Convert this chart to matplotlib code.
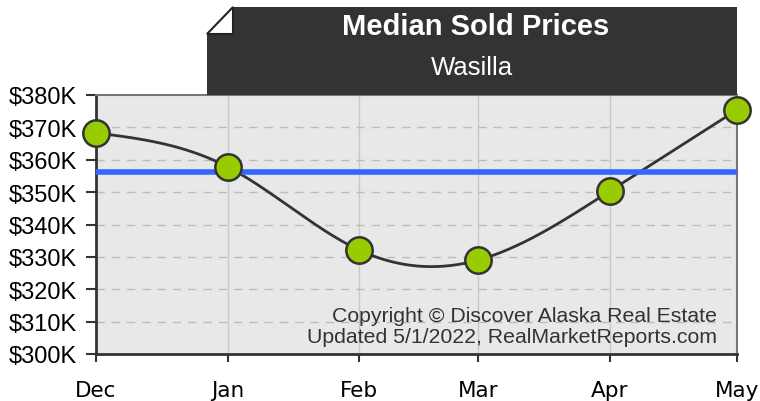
import datetime as dt
import numpy as np
import matplotlib
matplotlib.use("Agg")
import matplotlib.pyplot as plt
import matplotlib.dates as mdates
from matplotlib.patches import Polygon

# data
months = [dt.date(2021, 12, 1), dt.date(2022, 1, 1), dt.date(2022, 2, 1),
          dt.date(2022, 3, 1), dt.date(2022, 4, 1), dt.date(2022, 5, 1)]
month_labels = ["Dec", "Jan", "Feb", "Mar", "Apr", "May"]
prices = [368300, 357800, 332100, 329000, 350300, 375400]
average_price = 356200
y_ticks = list(range(300000, 380001, 10000))

title = "Median Sold Prices"
subtitle = "Wasilla"
note = "Copyright \u00a9 Discover Alaska Real Estate\nUpdated 5/1/2022, RealMarketReports.com"

W, H = 760, 402


def natural_spline(x, y, n=400):
    # natural cubic spline through the points, only used to draw the smooth line
    x = np.asarray(x, float)
    y = np.asarray(y, float)
    k = len(x)
    h = np.diff(x)
    A = np.zeros((k, k))
    b = np.zeros(k)
    A[0, 0] = A[-1, -1] = 1
    for i in range(1, k - 1):
        A[i, i - 1] = h[i - 1]
        A[i, i] = 2 * (h[i - 1] + h[i])
        A[i, i + 1] = h[i]
        b[i] = 6 * ((y[i + 1] - y[i]) / h[i] - (y[i] - y[i - 1]) / h[i - 1])
    M = np.linalg.solve(A, b)
    xs = np.linspace(x[0], x[-1], n)
    idx = np.clip(np.searchsorted(x, xs) - 1, 0, k - 2)
    x0, x1 = x[idx], x[idx + 1]
    hh = x1 - x0
    t0, t1 = x1 - xs, xs - x0
    ys = (M[idx] * t0 ** 3 + M[idx + 1] * t1 ** 3) / (6 * hh) \
        + (y[idx] / hh - M[idx] * hh / 6) * t0 \
        + (y[idx + 1] / hh - M[idx + 1] * hh / 6) * t1
    return xs, ys


def fx(px):
    return px / W


def fy(py):
    return 1 - py / H


fig = plt.figure(figsize=(W / 100, H / 100), dpi=100)
fig.patch.set_facecolor("white")
ax = fig.add_axes([fx(96), fy(355), (737 - 96) / W, (355 - 96) / H])
ax.set_facecolor("#e8e8e8")

xnum = mdates.date2num(months)
ax.set_xlim(xnum[0], xnum[-1])
ax.set_ylim(300000, 380000)

for xv in xnum[1:-1]:
    ax.axvline(xv, color="#c8c8c8", lw=1, zorder=1)
for yv in y_ticks[1:-1]:
    ax.axhline(yv, color="#bdbdbd", lw=1, ls=(0, (6, 5)), zorder=1)

xs, ys = natural_spline(xnum, prices)
ax.plot(xs, ys, color="#333333", lw=2, zorder=3, clip_on=False)
ax.axhline(average_price, color="#3366ff", lw=4, zorder=4)
ax.plot(xnum, prices, ls="none", marker="o", ms=19, mfc="#99cc00",
        mec="#333333", mew=1.8, zorder=5, clip_on=False)

ax.set_yticks(y_ticks)
ax.set_yticklabels(["${}K".format(v // 1000) for v in y_ticks],
                   family="Liberation Sans", fontsize=17)
ax.set_xticks(xnum)
ax.set_xticklabels(month_labels, family="DejaVu Sans", fontsize=15.5)
ax.tick_params(axis="y", length=7.2, width=1.5, color="#333333", pad=6.5)
ax.tick_params(axis="x", length=5.8, width=1.5, color="#333333", pad=13)

for side in ["left", "bottom"]:
    ax.spines[side].set_color("#333333")
    ax.spines[side].set_linewidth(2)
for side in ["top", "right"]:
    ax.spines[side].set_color("#777777")
    ax.spines[side].set_linewidth(1.5)

fig.text(fx(717), fy(327), note, ha="right", va="center",
         family="Liberation Sans", fontsize=15.3, color="#333333",
         linespacing=1.1, zorder=6)

box = Polygon([(fx(207), fy(35)), (fx(233), fy(8)), (fx(737), fy(8)),
               (fx(737), fy(96)), (fx(207), fy(96))],
              closed=True, transform=fig.transFigure, facecolor="#333333",
              edgecolor="none", zorder=10)
fig.add_artist(box)
fold = Polygon([(fx(207), fy(35)), (fx(233), fy(8)), (fx(233), fy(35))],
               closed=True, transform=fig.transFigure, facecolor="white",
               edgecolor="#222222", lw=1.5, zorder=11)
fig.add_artist(fold)
fig.text(fx(476), fy(27), title, ha="center", va="center", color="white",
         family="Liberation Sans", fontweight="bold", fontsize=21, zorder=12)
fig.text(fx(472), fy(68), subtitle, ha="center", va="center", color="white",
         family="Liberation Sans", fontsize=18.5, zorder=12)

fig.savefig("out.png", dpi=100)
